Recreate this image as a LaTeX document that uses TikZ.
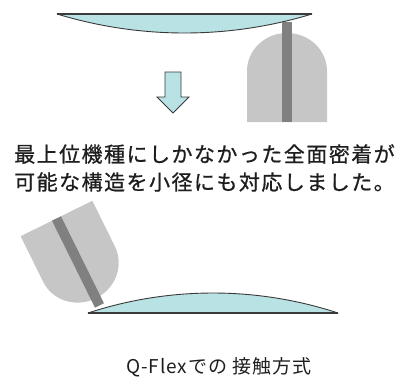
\documentclass[tikz,border=0pt]{standalone}
\usepackage{fontspec}
\newfontfamily\jpfont[LetterSpace=7, FakeBold=0.8]{Noto Sans CJK JP}
\newfontfamily\capfont[LetterSpace=5]{Noto Sans CJK JP}
\definecolor{lensfill}{HTML}{B9E2E4}
\definecolor{lensedge}{HTML}{3A3A3A}
\definecolor{probebody}{HTML}{C6C6C6}
\definecolor{probebar}{HTML}{808080}
\definecolor{txt}{HTML}{1E1E1E}
\tikzset{
  lens/.style={fill=lensfill, draw=lensedge, line width=0.9pt, line join=round},
  flatedge/.style={draw=lensedge, line width=1.8pt},
  probe/.style={fill=probebody, draw=none},
  bar/.style={fill=probebar, draw=none},
  downarrow/.style={fill=lensfill, draw=lensedge, line width=0.8pt, line join=miter},
  bodytext/.style={font=\jpfont\fontsize{21}{26}\selectfont, text=txt, inner sep=0pt},
  captext/.style={font=\capfont\fontsize{19}{23}\selectfont, text=txt, inner sep=0pt}
}
% probe outline in local coordinates: flat end on y=0, dome towards -y
\newcommand{\probeshape}{(-40,0) -- (-40,-51) arc[x radius=40, y radius=38, start angle=180, end angle=360] -- (40,0) -- cycle}
\begin{document}
\begin{tikzpicture}[x=1pt, y=-1pt]
  \useasboundingbox (0,0) rectangle (408,383);

  % upper lens with the probe touching its edge
  \coordinate (ulL) at (57,14);
  \coordinate (ulR) at (312,14);
  \path[lens] (ulL) -- (ulR) arc[start angle=73.04, end angle=106.96, radius=437] -- cycle;
  \draw[flatedge] (ulL) -- (ulR);
  \begin{scope}[shift={(287,122)}]
    \fill[probe] \probeshape;
    \fill[bar] (-5,0) rectangle (5,-100);
  \end{scope}

  % arrow
  \path[downarrow] (165,72) -- (181,72) -- (181,97) -- (189,97) -- (173,113)
    -- (157,97) -- (165,97) -- cycle;

  % description
  \node[bodytext] (t1) at (204.5,154) {最上位機種にしかなかった全面密着が};
  \node[bodytext] (t2) at (204.5,182) {可能な構造を小径にも対応しました。};

  % lower lens with the tilted probe
  \begin{scope}[shift={(56.5,218.5)}, rotate=-153.7]
    \fill[probe] \probeshape;
    \fill[bar] (-5,0) rectangle (5,-97);
  \end{scope}
  \coordinate (llL) at (88,313);
  \coordinate (llR) at (338,313);
  \path[lens] (llL) arc[start angle=-108.18, end angle=-71.82, radius=400.6] -- cycle;
  \draw[flatedge] (llL) -- (llR);

  % caption
  \node[captext, anchor=west] (cap) at (126,367) {Q-Flexでの 接触方式};
\end{tikzpicture}
\end{document}
